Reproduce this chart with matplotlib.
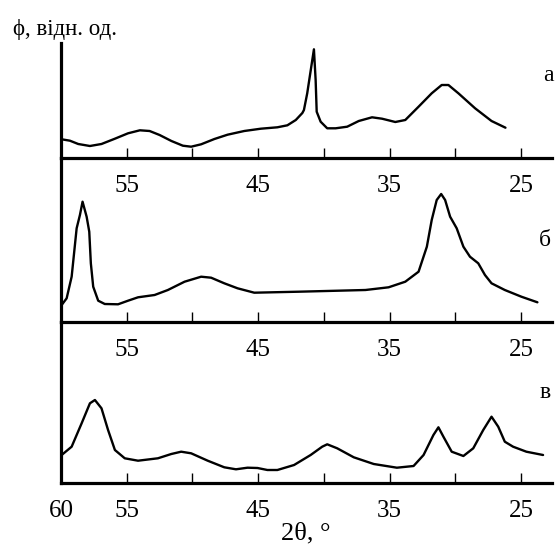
import numpy as np
import matplotlib
matplotlib.use('Agg')
from matplotlib import pyplot as plt

plt.rcParams['font.family'] = ['Liberation Serif', 'DejaVu Serif']

# кут 2θ, градуси; інтенсивність у відносних одиницях (над базовою лінією)
two_theta_a = [59.95, 59.32, 58.69, 57.8, 56.92, 55.9, 54.9, 54.0, 53.26, 52.5,
               51.6, 50.73, 50.1, 49.34, 48.33, 47.33, 46.06, 44.8, 43.54, 42.78,
               42.14, 41.64, 41.52, 41.27, 41.0, 40.76, 40.63, 40.55, 40.25, 39.75,
               39.11, 38.23, 37.35, 36.34, 35.58, 34.57, 33.81, 32.8, 31.8, 31.04,
               30.53, 29.77, 28.5, 27.25, 26.19]
phi_a = [18.7, 17.3, 14, 12, 14, 19.3, 24.7, 27.7, 27, 23,
         17, 12.3, 11.3, 13.7, 19, 23.3, 27, 29.3, 30.7, 32.7,
         38, 45, 48, 64.7, 88, 108.7, 78, 46.3, 36.3, 29.7,
         29.7, 31.3, 37, 40.7, 39.3, 36, 38, 51.3, 64.7, 73,
         73, 64.7, 49.7, 37, 30.3]

two_theta_b = [59.95, 59.57, 59.19, 58.81, 58.56, 58.36, 58.05, 57.85, 57.73, 57.55,
               57.17, 56.67, 55.66, 54.9, 54.14, 52.88, 51.87, 50.6, 49.34, 48.58,
               47.58, 46.57, 45.3, 41.9, 36.84, 35.08, 33.81, 32.8, 32.17, 31.8,
               31.42, 31.08, 30.78, 30.4, 29.9, 29.39, 28.89, 28.26, 27.75, 27.25,
               26.24, 24.98, 23.76]
phi_b = [17, 23.7, 45.3, 93.7, 107, 120.3, 105.3, 90.3, 58.7, 35.3,
         21.3, 18, 17.7, 21.3, 24.7, 27, 32, 40.3, 45.3, 44.3,
         38.7, 33.7, 29.3, 30.3, 32, 34.7, 40.3, 50.3, 75.3, 102,
         122, 128, 122, 105.3, 93.7, 75.3, 65.3, 58.7, 47, 38.7,
         32, 25.3, 19.7]

two_theta_c = [59.95, 59.19, 58.43, 57.8, 57.42, 56.92, 56.42, 55.9, 55.15, 54.14,
               52.63, 51.61, 50.86, 50.1, 48.84, 47.58, 46.69, 45.81, 45.05, 44.3,
               43.54, 42.27, 41.01, 40.13, 39.75, 38.99, 37.73, 36.21, 34.45, 33.18,
               32.42, 31.67, 31.29, 30.91, 30.28, 29.39, 28.64, 27.88, 27.25, 26.74,
               26.24, 25.61, 24.6, 23.33]
phi_c = [28, 36.3, 59.7, 79.7, 83, 74.7, 53, 33, 24.7, 22.3,
         24.7, 29, 31.3, 29.7, 22.3, 15.7, 13.7, 15.3, 15, 13,
         13, 18, 28, 36.3, 38.7, 34.7, 25.7, 19, 15.3, 17,
         28, 48, 55.7, 46.3, 31.3, 27, 34.7, 53, 66.3, 56.3,
         41.3, 36.3, 31.3, 28]

panel_labels = ['a', 'б', 'в']
tick_values = [60, 55, 50, 45, 40, 35, 30, 25]
tick_text = ['', '55', '', '45', '', '35', '', '25']
tick_text_bottom = ['60', '55', '', '45', '', '35', '', '25']

W, H = 555, 544
fig = plt.figure(figsize=(W / 100, H / 100), dpi=100)

# межі панелей у пікселях (верх, низ)
bounds = [(43, 158), (158, 322), (322, 483)]
left_px, right_px = 61, 552
series = [(two_theta_a, phi_a), (two_theta_b, phi_b), (two_theta_c, phi_c)]
label_pos = [(548, 75), (545, 240), (545, 392)]

for i, ((top, bot), (x, y)) in enumerate(zip(bounds, series)):
    ax = fig.add_axes([left_px / W, 1 - bot / H, (right_px - left_px) / W, (bot - top) / H])
    ax.plot(x, y, color='black', lw=1.7, solid_joinstyle='round', solid_capstyle='round')
    ax.set_xlim(60.0, 22.65)
    ax.set_ylim(0, bot - top)
    ax.patch.set_visible(False)
    for s in ['top', 'right']:
        ax.spines[s].set_visible(False)
    for s in ['left', 'bottom']:
        ax.spines[s].set_linewidth(2.3)
        ax.spines[s].set_color('black')
    ax.set_yticks([])
    ax.set_xticks(tick_values)
    ax.set_xticklabels(tick_text_bottom if i == 2 else tick_text)
    ax.tick_params(axis='x', direction='in', length=7.5, width=1.0, pad=12,
                   labelsize=18)
    fig.text(label_pos[i][0] / W, 1 - label_pos[i][1] / H, panel_labels[i],
             fontsize=17, ha='center', va='center')

fig.text(13 / W, 1 - 30 / H, 'ϕ, відн. од.', fontsize=16.5, ha='left', va='center',
         family=['Liberation Serif', 'DejaVu Serif'])
fig.text(306 / W, 1 - 533 / H, '2θ, °', fontsize=19, ha='center', va='center')

fig.savefig('out.png', dpi=100)
